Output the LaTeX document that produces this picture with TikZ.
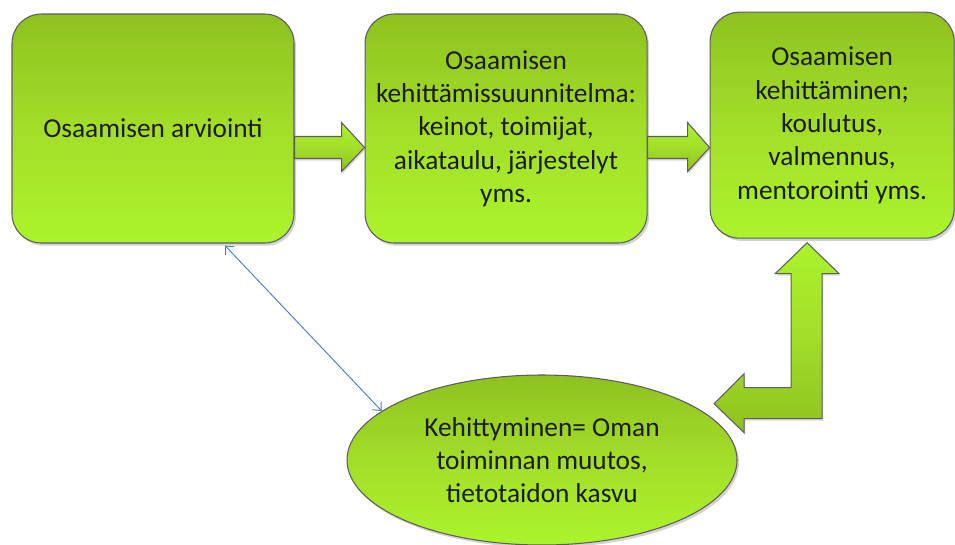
\documentclass[tikz,border=0pt]{standalone}
\usepackage{fontspec}
\setmainfont{Carlito}
\usetikzlibrary{shapes, arrows.meta, positioning, shadows}
\definecolor{gtop}{HTML}{8EC21F}
\definecolor{gmid}{HTML}{A3DE29}
\definecolor{gbot}{HTML}{ABF42B}
\definecolor{edgecol}{HTML}{5F5A66}
\definecolor{linkcol}{HTML}{4A7EBB}
\definecolor{txtcol}{HTML}{1C1C1C}
\tikzstyle{stage} = [rectangle, rounded corners=22pt, minimum width=211.5pt, minimum height=171.75pt, text centered, align=center, text=txtcol, draw=edgecol, line width=0.8pt, top color=gtop, bottom color=gbot, middle color=gmid, drop shadow={opacity=0.35, shadow xshift=1.5pt, shadow yshift=-2pt}]
\tikzstyle{goal} = [ellipse, minimum width=292.5pt, minimum height=127.5pt, inner sep=0pt, text centered, align=center, text=txtcol, draw=edgecol, line width=0.8pt, top color=gtop, bottom color=gbot, middle color=gmid, drop shadow={opacity=0.35, shadow xshift=1.5pt, shadow yshift=-2pt}]
\tikzstyle{blockarrow} = [draw=edgecol, line width=0.8pt, line join=miter, top color=gbot, bottom color=gtop, middle color=gmid, drop shadow={opacity=0.3, shadow xshift=1pt, shadow yshift=-1.5pt}]
\tikzstyle{link} = [{Straight Barb[length=5pt, width=9pt]}-{Straight Barb[length=5pt, width=9pt]}, draw=linkcol, line width=0.7pt]

\begin{document}
\begin{tikzpicture}[x=0.75pt, y=-0.75pt, every node/.style={font=\fontsize{20.5}{25}\selectfont}]
\useasboundingbox (0,0) rectangle (955,544);

%Stages
\node (assess) [stage] at (153,128.5) {Osaamisen arviointi};
\node (plan) [stage, right=52.5pt of assess] {Osaamisen\\kehittämissuunnitelma:\\keinot, toimijat,\\aikataulu, järjestelyt\\yms.};
\node (develop) [stage, right=46.5pt of plan, yshift=2.5pt, minimum width=183pt, minimum height=169.5pt] {Osaamisen\\kehittäminen;\\koulutus,\\valmennus,\\mentorointi yms.};
\node (growth) [goal] at (542,460) {Kehittyminen= Oman\\toiminnan muutos,\\tietotaidon kasvu};

%Block arrows
\draw [blockarrow] (assess.east) ++(0,8) -- ++(47,0) -- ++(0,-14) -- ++(23,25) -- ++(-23,24) -- ++(0,-13) -- ++(-47,0) -- cycle;
\draw [blockarrow] (plan.east) ++(0,8) -- ++(40,0) -- ++(0,-14) -- ++(22,25) -- ++(-22,24) -- ++(0,-13) -- ++(-40,0) -- cycle;
\draw [blockarrow] (develop.south) ++(-25,4) -- ++(32,31) -- ++(-17,0) -- ++(0,145) -- ++(-78,0) -- ++(0,14) -- ++(-30,-29) -- ++(30,-30) -- ++(0,14) -- ++(47,0) -- ++(0,-114) -- ++(-16,0) -- cycle;

%Feedback
\draw [link] ([xshift=54pt, yshift=-1.5pt]assess.south) -- (growth.163);
\end{tikzpicture}
\end{document}
